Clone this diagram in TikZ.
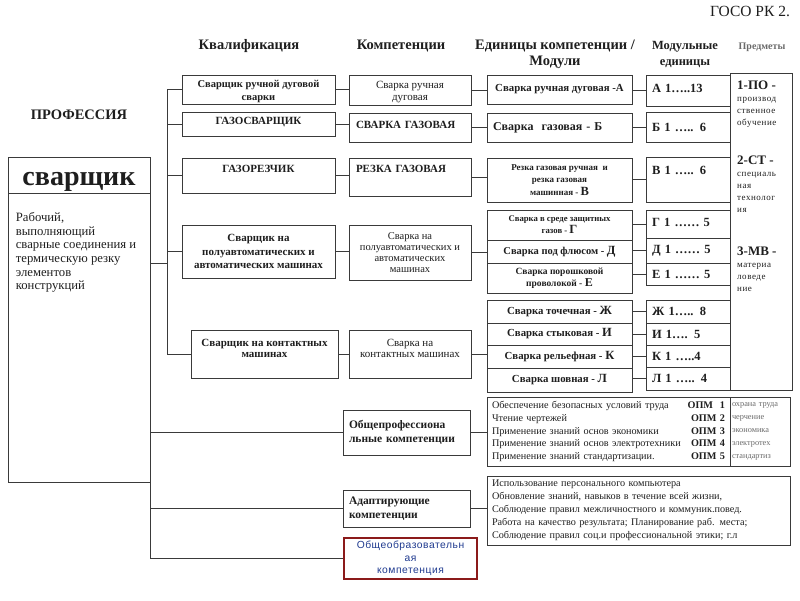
\documentclass[tikz,border=0pt]{standalone}
\usepackage{fontspec}
\setmainfont{Liberation Serif}
\setsansfont{Liberation Sans}
\newfontfamily\spacedsans[LetterSpace=5]{Liberation Sans}
\newfontfamily\spacedserif[LetterSpace=6]{Liberation Serif}
\newcommand{\nudge}[2]{\raisebox{#1}[\height][\depth]{#2}}
\definecolor{ScanInk}{HTML}{1E1E1E}
\definecolor{ScanRule}{HTML}{3A3A3A}
\definecolor{ScanFaint}{HTML}{6A6A6A}
\definecolor{GosoRed}{HTML}{8B1A1A}
\definecolor{GosoBlue}{HTML}{1F3A8F}
\usetikzlibrary{calc}

\begin{document}
\begin{tikzpicture}[x=1pt,y=-1pt,
        every node/.style={text=ScanInk},
        colhead/.style={
            font=\bfseries\fontsize{14.5}{16}\selectfont,
            align=center
        },
        cell/.style={
            draw=ScanRule,
            line width=0.7pt,
            fill=white,
            inner sep=2pt,
            align=center,
            font=\bfseries\fontsize{11}{12.5}\selectfont
        },
        qualcell/.style={cell, minimum width=153pt},
        compcell/.style={cell, minimum width=122pt},
        unitcell/.style={cell, minimum width=145pt},
        modcell/.style={
            cell,
            minimum width=84pt,
            text width=72pt,
            inner xsep=6pt,
            align=left,
            font=\bfseries\fontsize{12.5}{13}\selectfont
        },
        groupcell/.style={
            cell,
            minimum width=127pt,
            text width=115pt,
            inner xsep=6pt,
            align=left,
            font=\bfseries\fontsize{11.5}{14.5}\selectfont
        },
        listcell/.style={
            draw=ScanRule,
            line width=0.7pt,
            inner xsep=5pt,
            align=left,
            font=\fontsize{10.2}{12.8}\selectfont
        },
        subjtext/.style={
            anchor=north west,
            align=left,
            inner sep=0pt,
            font=\spacedserif\fontsize{9}{12}\selectfont
        },
        link/.style={
            draw=ScanRule,
            line width=0.7pt
        }
    ]
        \useasboundingbox (0,0) rectangle (800,600);

        \node[font=\fontsize{15.5}{17}\selectfont] (goso) at (750,11) {ГОСО РК 2.};
        \node[colhead] (hqual) at (249,46) {Квалификация};
        \node[colhead] (hcomp) at (401,46) {Компетенции};
        \node[colhead] (hunit) at (555,54) {Единицы компетенции /\\Модули};
        \node[colhead, font=\bfseries\fontsize{12.5}{16}\selectfont] (hmod) at (685,54) {Модульные\\единицы};
        \node[font=\bfseries\fontsize{10}{10}\selectfont, text=ScanFaint] (hsubj) at (762,47) {Предметы};

        \node[font=\bfseries\fontsize{14.5}{16}\selectfont] (prof) at (79,115) {ПРОФЕССИЯ};
        \node[draw=ScanRule, line width=0.7pt, minimum width=142pt, minimum height=325pt] (sv) at (79,319.5) {};
        \node[draw=ScanRule, line width=0.7pt, minimum width=142pt, minimum height=36pt, anchor=north,
            font=\bfseries\fontsize{28}{30}\selectfont] (svname) at (sv.north) {\nudge{-7pt}{сварщик}};
        \node[anchor=north west, align=left, inner sep=0pt, font=\fontsize{12.7}{13.6}\selectfont]
            (svtext) at ([xshift=8pt,yshift=-19pt]svname.south west)
            {Рабочий,\\выполняющий\\сварные соединения и\\термическую резку\\элементов\\конструкций};

        \node[qualcell, minimum height=29pt, font=\bfseries\fontsize{10.5}{12.5}\selectfont] (q1) at (258.5,89.5) {\nudge{-2pt}{Сварщик ручной дуговой}\\\nudge{-2pt}{сварки}};
        \node[qualcell, minimum height=24pt] (q2) at (258.5,124) {\nudge{2pt}{ГАЗОСВАРЩИК}};
        \node[qualcell, minimum height=35pt] (q3) at (258.5,175.5) {\nudge{7pt}{ГАЗОРЕЗЧИК}};
        \node[qualcell, minimum height=53pt, font=\bfseries\fontsize{11}{13.3}\selectfont] (q4) at (258.5,251.5) {Сварщик на\\полуавтоматических и\\автоматических машинах};
        \node[qualcell, minimum width=147pt, minimum height=48pt, font=\bfseries\fontsize{11}{11.5}\selectfont] (q5) at (264.5,354) {Сварщик на контактных\\машинах\\ \mbox{}};

        \node[compcell, minimum height=30pt, font=\fontsize{11}{12}\selectfont] (c1) at (410,90) {\nudge{-2pt}{Сварка ручная}\\\nudge{-2pt}{дуговая}};
        \node[compcell, minimum height=29pt, text width=108pt, inner xsep=7pt, align=left] (c2) at (410,127.5) {\nudge{3pt}{СВАРКА ГАЗОВАЯ}};
        \node[compcell, minimum height=38pt, text width=108pt, inner xsep=7pt, align=left] (c3) at (410,177) {\nudge{8pt}{РЕЗКА ГАЗОВАЯ}};
        \node[compcell, minimum height=55pt, font=\fontsize{10.5}{11}\selectfont] (c4) at (410,252.5) {Сварка на\\полуавтоматических и\\автоматических\\машинах};
        \node[compcell, minimum height=48pt, font=\fontsize{11}{11.5}\selectfont] (c5) at (410,354) {Сварка на\\контактных машинах\\ \mbox{}};

        \node[unitcell, minimum height=29pt, font=\bfseries\fontsize{10.8}{12}\selectfont] (uA) at (559.5,89.5) {Сварка ручная дуговая -А};
        \node[unitcell, minimum height=29pt, text width=133pt, inner xsep=6pt, align=left, font=\bfseries\fontsize{12}{14}\selectfont] (uB) at (559.5,127.5) {Сварка\ \ газовая - Б};
        \node[unitcell, minimum height=44pt, font=\bfseries\fontsize{9}{12.5}\selectfont] (uV) at (559.5,180) {Резка газовая ручная\ \ и\\резка газовая\\машинная - {\fontsize{12.5}{12}\selectfont В}};
        \node[unitcell, minimum height=30pt, font=\bfseries\fontsize{8.7}{12}\selectfont] (uG) at (559.5,225) {Сварка в среде защитных\\газов - {\fontsize{12.5}{12}\selectfont Г}};
        \node[unitcell, minimum height=23pt, font=\bfseries\fontsize{10.5}{12}\selectfont] (uD) at (559.5,251.5) {Сварка под флюсом - {\fontsize{12.5}{12}\selectfont Д}};
        \node[unitcell, minimum height=30pt, font=\bfseries\fontsize{9.5}{12}\selectfont] (uE) at (559.5,278) {Сварка порошковой\\проволокой - {\fontsize{12}{12}\selectfont Е}};
        \node[unitcell, minimum height=23pt, font=\bfseries\fontsize{10.8}{12}\selectfont] (uZh) at (559.5,311.5) {Сварка точечная - {\fontsize{12.5}{12}\selectfont Ж}};
        \node[unitcell, minimum height=22pt, font=\bfseries\fontsize{10.8}{12}\selectfont] (uI) at (559.5,334) {Сварка стыковая - {\fontsize{12.5}{12}\selectfont И}};
        \node[unitcell, minimum height=23pt, font=\bfseries\fontsize{10.8}{12}\selectfont] (uK) at (559.5,356.5) {Сварка рельефная - {\fontsize{12.5}{12}\selectfont К}};
        \node[unitcell, minimum height=24pt, font=\bfseries\fontsize{10.8}{12}\selectfont] (uL) at (559.5,380) {Сварка шовная - {\fontsize{12.5}{12}\selectfont Л}};

        \node[modcell, minimum height=31pt] (mA) at (688,90.5) {\nudge{2pt}{А 1…..13}};
        \node[modcell, minimum height=30pt] (mB) at (688,127) {Б 1 ….. 6};
        \node[modcell, minimum height=45pt] (mV) at (688,179.5) {\nudge{9pt}{В 1 ….. 6}};
        \node[modcell, minimum height=28pt] (mG) at (688,224) {\nudge{2pt}{Г 1 …… 5}};
        \node[modcell, minimum height=25pt] (mD) at (688,250.5) {Д 1 …… 5};
        \node[modcell, minimum height=22pt] (mE) at (688,274) {Е 1 …… 5};
        \node[modcell, minimum height=23pt] (mZh) at (688,311.5) {Ж 1….. 8};
        \node[modcell, minimum height=22pt] (mI) at (688,334) {И 1…. 5};
        \node[modcell, minimum height=22pt] (mK) at (688,356) {К 1 …..4};
        \node[modcell, minimum height=23pt] (mL) at (688,378.5) {Л 1 ….. 4};

        \node[draw=ScanRule, line width=0.7pt, minimum width=62pt, minimum height=317pt] (subj) at (761,231.5) {};
        \node[subjtext] (po) at (737,81)
            {{\bfseries\rmfamily\fontsize{13}{12}\selectfont 1-ПО -}\\производ\\ственное\\обучение};
        \node[subjtext] (st) at (737,156)
            {{\bfseries\rmfamily\fontsize{13}{12}\selectfont 2-СТ -}\\специаль\\ная\\технолог\\ия};
        \node[subjtext] (mv) at (737,247)
            {{\bfseries\rmfamily\fontsize{13}{12}\selectfont 3-МВ -}\\материа\\ловеде\\ние};

        \node[groupcell, minimum height=45pt] (op) at (406.5,432.5) {Общепрофессиона\\льные компетенции};
        \node[listcell, minimum width=243pt, minimum height=69pt, text width=233pt] (opm) at (608.5,431.5)
            {Обеспечение безопасных условий труда\hfill\textbf{ОПМ\ \ 1}\\
             Чтение чертежей\hfill\textbf{ОПМ 2}\\
             Применение знаний основ экономики\hfill\textbf{ОПМ 3}\\
             Применение знаний основ электротехники\hfill\textbf{ОПМ 4}\\
             Применение знаний стандартизации.\hfill\textbf{ОПМ 5}};
        \node[listcell, minimum width=60pt, minimum height=69pt, text width=56pt, inner xsep=2pt,
            font=\fontsize{8.3}{12.8}\selectfont, text=ScanFaint] (opsubj) at (760,431.5)
            {охрана труда\\черчение\\экономика\\электротех\\стандартиз};

        \node[groupcell, minimum height=37pt] (ad) at (406.5,508.5) {Адаптирующие\\компетенции};
        \node[listcell, minimum width=303pt, minimum height=69pt, text width=293pt, font=\fontsize{10.2}{13}\selectfont] (adlist) at (638.5,510.5)
            {Использование персонального компьютера\\
             Обновление знаний, навыков в течение всей жизни,\\
             Соблюдение правил межличностного и коммуник.повед.\\
             Работа на качество результата; Планирование раб. места;\\
             Соблюдение правил соц.и профессиональной этики; г.л};

        \node[draw=GosoRed, line width=2.6pt, minimum width=133pt, minimum height=41pt, align=center,
            text=GosoBlue, font=\spacedsans\fontsize{10.3}{12.5}\selectfont] (oo) at (410.5,558.5)
            {Общеобразовательн\\ая\\компетенция};

        \coordinate (qjoin) at (167,263);
        \draw[link] (sv.east |- qjoin) -- (qjoin);
        \draw[link] (q1.west -| qjoin) -- (q5.west -| qjoin);
        \foreach \q in {q1,q2,q3,q4,q5}
            \draw[link] (\q.west) -- (\q.west -| qjoin);

        \foreach \i in {1,...,5}
            \draw[link] (q\i.east) -- (q\i.east -| c\i.west);
        \draw[link] (c1.east) -- (c1.east -| uA.west);
        \draw[link] (c2.east) -- (c2.east -| uB.west);
        \draw[link] (c3.east) -- (c3.east -| uV.west);
        \draw[link] (c4.east) -- (c4.east -| uD.west);
        \draw[link] (c5.east) -- (c5.east -| uK.west);

        \foreach \k in {A,B,V,G,D,E,Zh,I,K,L}
            \draw[link] (m\k.west) -- (m\k.west -| u\k.east);

        \draw[link] (sv.east |- op.west) -- (op.west);
        \draw[link] (sv.south east) -- (sv.south east |- oo.west) -- (oo.west);
        \draw[link] (sv.east |- ad.west) -- (ad.west);
        \draw[link] (op.east) -- (op.east -| opm.west);
        \draw[link] (ad.east) -- (ad.east -| adlist.west);
    \end{tikzpicture}
\end{document}
